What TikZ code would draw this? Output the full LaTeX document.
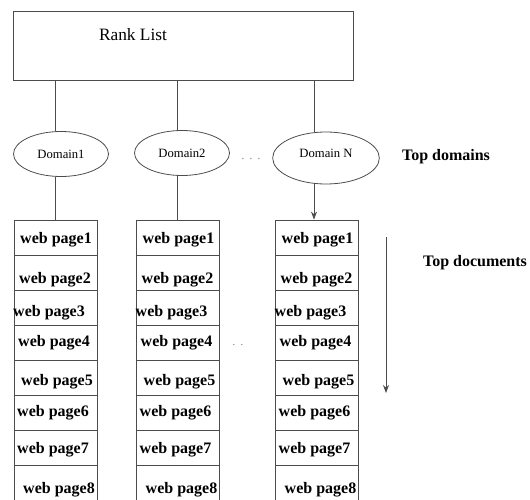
\documentclass[tikz,border=0pt]{standalone}
\usepackage{fontspec}
\setmainfont{Liberation Serif}
\usetikzlibrary{shapes.geometric, arrows.meta, positioning, calc}

\begin{document}
\begin{tikzpicture}[
    x=0.75pt, y=-0.75pt,
    line width=0.6pt,
    rankbox/.style={draw=black!70, rectangle, minimum width=255pt, minimum height=51.75pt, anchor=north west, inner sep=0pt},
    domainnode/.style={draw=black!70, ellipse, minimum width=71.25pt, minimum height=33.75pt, inner sep=0pt, font=\fontsize{9.5}{11}\selectfont},
    pagecell/.style={draw=black!70, rectangle, minimum width=62.25pt, minimum height=26.25pt, inner sep=0pt},
    pagetext/.style={font=\fontsize{12}{14}\selectfont\bfseries, inner sep=0pt},
    sidelabel/.style={font=\fontsize{12}{14}\selectfont\bfseries, inner sep=0pt},
    gapdots/.style={text=black!55, font=\fontsize{8}{9}\selectfont, inner sep=0pt},
    link/.style={draw=black!70}
]
\useasboundingbox (0,0) rectangle (530,499);

% rank list
\node[rankbox] (rank) at (13,11) {};
\node[font=\fontsize{13}{15}\selectfont, inner sep=0pt] (ranktxt) at (133,35) {Rank List};

% domains
\node[domainnode] (d1) at (61,154) {Domain1};
\node[domainnode] (d2) at (182,153) {Domain2};
\node[domainnode, minimum width=80pt, minimum height=39pt, text depth=7.5pt] (dN) at (326,158) {Domain N};
\node[gapdots] (gapd) at (251,159) {.\ \ .\ \ .};
\node[sidelabel] (topdom) at (446,157) {Top domains};

% web page columns
\foreach \col/\cx in {1/55.5, 2/178, 3/317} {
  \foreach \row/\dx/\dy in {1/0.5/2.5, 2/-0.5/7.5, 3/-6.5/5.5, 4/-1.5/0.5, 5/1.5/4.5, 6/-2.5/0.5, 7/-2.5/2.5, 8/3.5/7.5} {
    \node[pagecell] (p\col-\row) at (\cx, 202.5+35*\row) {};
    \node[pagetext] (t\col-\row) at ($(p\col-\row.center)+(\dx,\dy)$) {web page\row};
  }
}
\node[gapdots] (gapp) at (238,345) {.\ \ .};

% connectors
\coordinate (x1) at (55,0);
\coordinate (x2) at (177,0);
\coordinate (x3) at (314,0);
\draw[link] (rank.south -| x1) -- (x1 |- d1.north);
\draw[link] (rank.south -| x2) -- (x2 |- d2.north);
\draw[link] (rank.south -| x3) -- (x3 |- dN.north);
\draw[link] (d1.south -| x1) -- (x1 |- p1-1.north);
\draw[link] (d2.south -| x2) -- (x2 |- p2-1.north);
\draw[link, -{Stealth[length=6pt, width=4.5pt]}] (dN.south -| x3) -- (x3 |- p3-1.north);

% top documents
\coordinate (arrtop) at (386,237);
\coordinate (arrbot) at (386,393);
\draw[link, -{Stealth[length=6pt, width=4.5pt]}] (arrtop) -- (arrbot);
\node[sidelabel] (topdoc) at (475,263) {Top documents};

\end{tikzpicture}
\end{document}
